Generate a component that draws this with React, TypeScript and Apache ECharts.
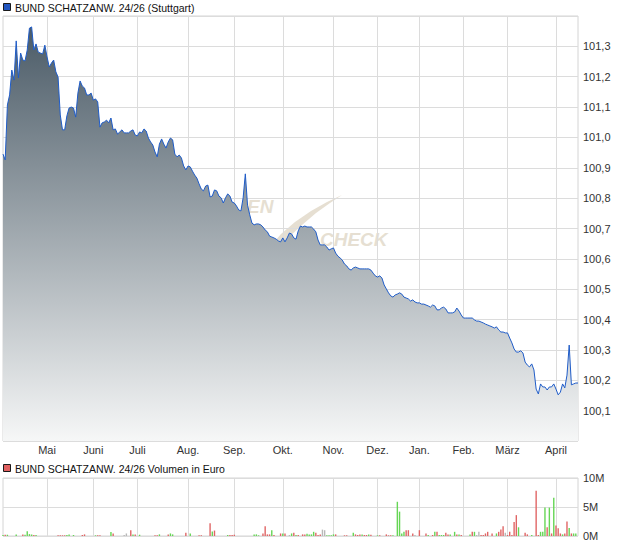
import React, { useEffect, useRef } from "react";
import * as echarts from "echarts";

// Segment 0 = rest of April 2024, then one label per month start
const monthLabels = ["Mai", "Juni", "Juli", "Aug.", "Sep.", "Okt.", "Nov.", "Dez.", "Jan.", "Feb.", "März", "April"];
const tradingDaysPerSegment = [20, 21, 20, 23, 21, 22, 23, 20, 19, 20, 20, 22, 11];

const priceTitle = "BUND SCHATZANW. 24/26 (Stuttgart)";
const volumeTitle = "BUND SCHATZANW. 24/26 Volumen in Euro";

const priceValues = [
  100.945, 100.926, 101.107, 101.140, 101.222, 101.189, 101.318, 101.196, 101.278, 101.255,
  101.252, 101.288, 101.360, 101.364, 101.288, 101.308, 101.281, 101.278, 101.275, 101.304,
  101.265, 101.232, 101.245, 101.255, 101.216, 101.199, 101.074, 101.025, 101.025, 101.071,
  101.097, 101.100, 101.097, 101.067, 101.146, 101.186, 101.169, 101.163, 101.140, 101.140,
  101.146, 101.123, 101.127, 101.117, 101.034, 101.048, 101.051, 101.057, 101.048, 101.064,
  101.025, 101.028, 101.011, 101.018, 101.025, 101.015, 101.015, 101.015, 101.021, 101.025,
  101.008, 101.005, 101.018, 101.015, 101.028, 101.021, 100.998, 100.985, 100.975, 100.952,
  100.936, 100.978, 100.995, 100.978, 100.965, 100.985, 100.998, 100.992, 100.945, 100.936,
  100.942, 100.932, 100.906, 100.893, 100.906, 100.903, 100.889, 100.876, 100.866, 100.847,
  100.830, 100.824, 100.840, 100.843, 100.804, 100.807, 100.827, 100.824, 100.807, 100.801,
  100.784, 100.801, 100.814, 100.807, 100.787, 100.784, 100.774, 100.761, 100.758, 100.801,
  100.880, 100.777, 100.745, 100.718, 100.712, 100.715, 100.715, 100.712, 100.705, 100.695,
  100.689, 100.675, 100.672, 100.669, 100.665, 100.659, 100.656, 100.669, 100.656, 100.669,
  100.685, 100.682, 100.669, 100.665, 100.692, 100.708, 100.705, 100.708, 100.705, 100.705,
  100.705, 100.698, 100.689, 100.662, 100.646, 100.646, 100.646, 100.639, 100.629, 100.633,
  100.636, 100.619, 100.609, 100.603, 100.596, 100.583, 100.577, 100.567, 100.563, 100.570,
  100.573, 100.570, 100.567, 100.567, 100.567, 100.567, 100.567, 100.563, 100.553, 100.544,
  100.540, 100.544, 100.537, 100.514, 100.501, 100.488, 100.478, 100.474, 100.481, 100.484,
  100.488, 100.484, 100.474, 100.471, 100.468, 100.461, 100.465, 100.458, 100.455, 100.455,
  100.451, 100.451, 100.448, 100.445, 100.441, 100.448, 100.445, 100.432, 100.432, 100.438,
  100.441, 100.435, 100.422, 100.422, 100.422, 100.425, 100.438, 100.428, 100.415, 100.405,
  100.405, 100.405, 100.405, 100.405, 100.399, 100.395, 100.395, 100.392, 100.389, 100.385,
  100.382, 100.379, 100.376, 100.372, 100.376, 100.366, 100.359, 100.359, 100.356, 100.356,
  100.339, 100.323, 100.303, 100.293, 100.293, 100.297, 100.290, 100.260, 100.250, 100.244,
  100.254, 100.234, 100.171, 100.155, 100.188, 100.178, 100.178, 100.168, 100.178, 100.178,
  100.188, 100.171, 100.152, 100.161, 100.188, 100.175, 100.217, 100.316, 100.185, 100.188, 100.191, 100.191,
];

// [trading-day index, volume in millions EUR, direction: 1 up, -1 down, 0 unchanged]
const volumeEntries: [number, number, number][] = [
  [0, 0.17, 1], [1, 0.22, -1], [2, 0.22, 1], [6, 0.28, 1], [9, 0.28, -1], [10, 0.22, 1], [11, 0.83, 1],
  [12, 0.33, 1], [13, 0.28, 1], [14, 0.17, -1], [15, 0.17, 1],
  [25, 0.12, -1], [26, 0.12, -1], [27, 0.12, -1], [28, 0.12, -1], [29, 0.17, 1], [30, 0.28, 1], [32, 0.17, 1],
  [36, 0.17, -1], [37, 0.28, -1],
  [42, 0.12, 1], [43, 0.12, -1], [44, 0.12, -1], [49, 0.67, 1], [50, 0.44, -1], [55, 0.17, 0], [56, 0.44, 0],
  [58, 1.0, -1], [59, 0.28, 1], [60, 0.28, -1], [62, 0.22, 1],
  [69, 0.12, -1], [70, 0.12, -1], [71, 0.28, 1], [75, 0.28, -1], [76, 0.44, 1], [77, 0.28, 1], [83, 0.56, -1], [85, 0.44, 1],
  [89, 0.12, -1], [90, 0.12, -1], [94, 2.2, -1], [95, 0.78, 1], [96, 0.94, -1],
  [102, 0.17, 1], [103, 0.17, -1], [104, 0.17, -1], [105, 0.22, -1],
  [114, 0.28, 1], [115, 0.28, 1], [116, 0.12, 1], [118, 0.44, -1], [119, 1.67, -1], [120, 0.28, -1], [121, 0.28, -1],
  [122, 1.0, 1], [123, 0.17, -1], [126, 0.44, -1], [127, 0.44, 1],
  [128, 0.44, -1], [130, 0.17, 0], [131, 0.44, 1], [132, 0.56, -1], [133, 0.17, 1], [134, 0.17, -1], [136, 0.28, -1],
  [137, 0.28, -1], [138, 0.39, 1], [139, 0.28, 1], [140, 0.28, 1], [141, 0.72, 1], [142, 0.56, -1], [143, 0.17, -1],
  [144, 0.28, -1], [145, 1.1, 0], [146, 1.0, 0], [147, 0.12, 1], [148, 0.12, 1], [149, 0.12, 1], [150, 0.28, 1], [151, 0.28, -1],
  [155, 0.12, -1], [156, 0.12, -1], [159, 0.56, 1], [160, 0.28, -1], [161, 0.17, -1], [162, 0.28, -1], [163, 0.28, 1],
  [164, 0.17, -1], [165, 0.17, -1], [166, 0.28, 1], [167, 0.22, -1],
  [170, 0.12, 1], [171, 0.12, -1], [174, 0.28, -1], [175, 0.12, -1], [176, 0.12, -1], [177, 0.12, 1], [179, 5.9, 1],
  [180, 4.2, 1], [181, 0.44, 1], [182, 0.72, 1], [183, 1.0, -1], [184, 1.0, -1], [186, 0.44, -1], [187, 0.17, 0], [189, 1.0, -1],
  [192, 0.44, -1], [193, 0.17, 1], [195, 0.17, -1], [196, 0.72, 1], [197, 0.72, -1], [198, 0.17, 1], [199, 0.17, 1],
  [200, 0.17, 1], [201, 0.56, -1], [202, 0.28, -1], [203, 0.28, 1], [205, 0.72, 1], [206, 0.28, -1], [207, 0.28, 1], [208, 0.17, -1],
  [212, 0.28, 1], [213, 0.72, -1], [214, 0.72, 1], [215, 0.17, 0], [216, 0.72, 0], [217, 0.17, -1], [218, 0.17, -1],
  [219, 0.44, -1], [220, 0.72, -1], [222, 0.44, -1], [224, 0.44, 1], [225, 0.72, -1], [226, 1.1, -1], [227, 1.67, -1],
  [228, 0.56, 0], [229, 0.17, -1],
  [230, 0.72, -1], [231, 0.17, -1], [232, 2.4, -1], [233, 3.6, -1], [234, 1.5, 1], [237, 0.56, -1], [238, 0.28, -1],
  [240, 0.17, 1], [242, 7.8, -1], [243, 0.17, -1], [244, 0.72, 1], [245, 0.72, 1], [246, 4.9, 1], [247, 1.5, -1],
  [248, 4.9, 1], [249, 0.44, -1], [250, 6.6, 1],
  [251, 1.8, -1], [252, 1.35, -1], [253, 0.44, -1], [254, 0.28, 1], [255, 0.44, -1], [256, 2.5, -1], [257, 1.4, 1],
  [258, 0.44, -1], [259, 0.44, 1], [260, 0.44, 1],
];

const priceTicks = { min: 100, max: 101.4, step: 0.1 };
const volumeTicks = { min: 0, max: 10, step: 5 };

const FONT = "'Liberation Sans', Arial, sans-serif";
const GRID_COLOR = "#dcdcdc";
const UP = "#66d655";
const DOWN = "#e06565";
const FLAT = "#b8b8b8";

export default function App() {
  const ref = useRef<HTMLDivElement>(null);

  useEffect(() => {
    document.body.style.margin = "0";
    if (!ref.current) return;
    const chart = echarts.init(ref.current, undefined, { renderer: "svg" });

    // categories: one per trading day; month label at first day of each month
    const categories: string[] = [];
    const monthStart: Record<number, string> = {};
    tradingDaysPerSegment.forEach((n, s) => {
      for (let d = 0; d < n; d++) {
        const idx = categories.length;
        if (d === 0 && s > 0) monthStart[idx] = monthLabels[s - 1];
        categories.push(String(idx));
      }
    });
    const isMonthStart = (i: number) => monthStart[i] !== undefined;

    const volumeData: any[] = categories.map(() => ({ value: 0, itemStyle: { color: FLAT } }));
    volumeEntries.forEach(([i, v, dir]) => {
      volumeData[i] = { value: v, itemStyle: { color: dir > 0 ? UP : dir < 0 ? DOWN : FLAT } };
    });

    const xBase = {
      type: "category",
      data: categories,
      boundaryGap: false,
      axisLine: { show: false },
      axisTick: { show: false },
      splitLine: { show: true, interval: (i: number) => isMonthStart(i), lineStyle: { color: GRID_COLOR, width: 1 } },
    };

    const option: any = {
      animation: false,
      backgroundColor: "#ffffff",
      grid: [
        { left: 3, right: 42, top: 16, height: 425, show: true, borderColor: "#d4d4d4", borderWidth: 1 },
        { left: 3, right: 42, top: 478, height: 58, show: true, borderColor: "#d4d4d4", borderWidth: 1 },
      ],
      xAxis: [
        {
          ...xBase,
          gridIndex: 0,
          axisLabel: {
            interval: (i: number) => isMonthStart(i),
            formatter: (_v: string, i: number) => monthStart[i] || "",
            margin: 3,
            fontSize: 11,
            fontFamily: FONT,
            color: "#333",
          },
        },
        { ...xBase, gridIndex: 1, axisLabel: { show: false } },
      ],
      yAxis: [
        {
          type: "value",
          gridIndex: 0,
          position: "right",
          min: priceTicks.min,
          max: priceTicks.max,
          interval: priceTicks.step,
          axisLine: { show: false },
          axisTick: { show: false },
          splitLine: { lineStyle: { color: GRID_COLOR } },
          axisLabel: {
            margin: 5,
            fontSize: 11,
            fontFamily: FONT,
            color: "#333",
            formatter: (v: number) =>
              v < priceTicks.min + 0.05 || v > priceTicks.max - 0.05 ? "" : v.toFixed(1).replace(".", ","),
          },
        },
        {
          type: "value",
          gridIndex: 1,
          position: "right",
          min: volumeTicks.min,
          max: volumeTicks.max,
          interval: volumeTicks.step,
          axisLine: { show: false },
          axisTick: { show: false },
          splitLine: { lineStyle: { color: GRID_COLOR } },
          axisLabel: { margin: 5, fontSize: 11, fontFamily: FONT, color: "#333", formatter: (v: number) => `${v}M` },
        },
      ],
      graphic: [
        {
          type: "group",
          z: 1,
          silent: true,
          children: [
            {
              type: "text",
              x: 247,
              y: 197,
              style: { text: "EN", fontSize: 19, fontWeight: "bold", fontStyle: "italic", fontFamily: FONT, fill: "#e6dfd2", align: "left", verticalAlign: "top" },
            },
            {
              type: "text",
              x: 320,
              y: 230,
              style: { text: "CHECK", fontSize: 19, fontWeight: "bold", fontStyle: "italic", fontFamily: FONT, fill: "#e6dfd2", align: "left", verticalAlign: "top" },
            },
            {
              type: "polygon",
              shape: {
                points: [
                  [270, 247], [281, 234], [295, 222], [311, 211], [327, 202], [342, 195],
                  [330, 203], [316, 213], [302, 225], [289, 237], [278, 248],
                ],
              },
              style: { fill: "#e6dfd2" },
            },
          ],
        },
        { type: "rect", shape: { x: 3.5, y: 3.5, width: 7, height: 7 }, style: { fill: "#2256c0", stroke: "#1a1a1a", lineWidth: 1 } },
        { type: "text", x: 15, y: 7.5, style: { text: priceTitle, fontSize: 10.5, fontFamily: FONT, fill: "#111", verticalAlign: "middle" } },
        { type: "rect", shape: { x: 3.5, y: 464.5, width: 7, height: 7 }, style: { fill: "#e06060", stroke: "#1a1a1a", lineWidth: 1 } },
        { type: "text", x: 15, y: 468.5, style: { text: volumeTitle, fontSize: 10.5, fontFamily: FONT, fill: "#111", verticalAlign: "middle" } },
      ],
      series: [
        {
          type: "line",
          xAxisIndex: 0,
          yAxisIndex: 0,
          data: priceValues,
          symbol: "none",
          z: 3,
          lineStyle: { color: "#1f5cc8", width: 1 },
          areaStyle: {
            origin: "start",
            opacity: 1,
            color: new echarts.graphic.LinearGradient(0, 0, 0, 1, [
              { offset: 0, color: "#4b5b67" },
              { offset: 1, color: "#f6f7f7" },
            ]),
          },
        },
        {
          type: "bar",
          xAxisIndex: 1,
          yAxisIndex: 1,
          data: volumeData,
          barWidth: 1.4,
        },
      ],
    };

    chart.setOption(option);
    return () => chart.dispose();
  }, []);

  return <div ref={ref} style={{ position: "fixed", left: 0, top: 0, width: 620, height: 546 }} />;
}
